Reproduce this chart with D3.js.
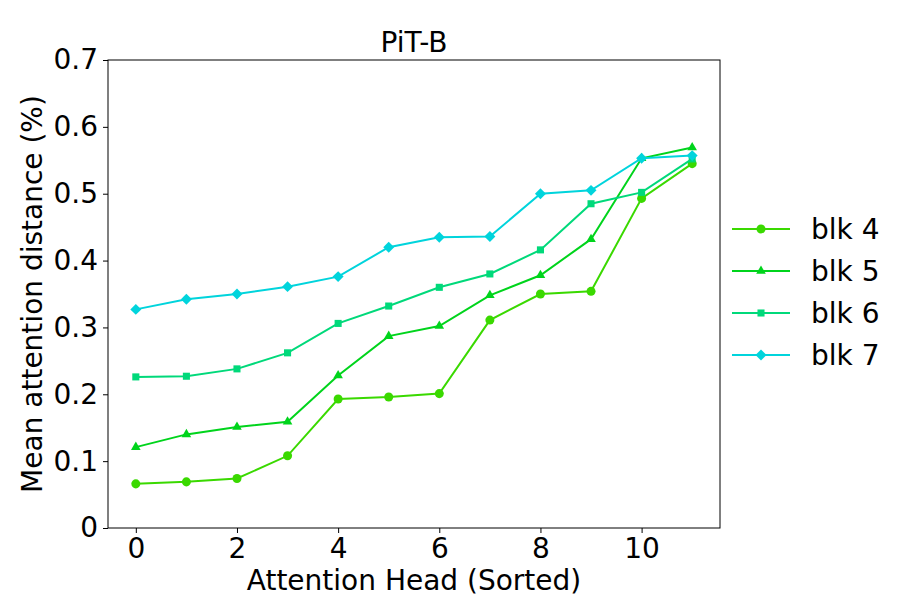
<!DOCTYPE html>
<html><head><meta charset="utf-8">
<script src="https://cdn.jsdelivr.net/npm/d3@7"></script>
<style>body{margin:0;background:#fff}svg text{font-family:"DejaVu Sans",sans-serif;fill:#000}</style>
</head><body>
<svg id="c" width="900" height="600"></svg>
<script>
const heads = [0,1,2,3,4,5,6,7,8,9,10,11];
const xTicks = [0,2,4,6,8,10];
const yTicks = [0,0.1,0.2,0.3,0.4,0.5,0.6,0.7];
const seriesNames = ["blk 4","blk 5","blk 6","blk 7"];
const blk4 = [0.066,0.069,0.074,0.108,0.193,0.196,0.201,0.311,0.350,0.354,0.493,0.545];
const blk5 = [0.121,0.140,0.151,0.159,0.228,0.287,0.302,0.348,0.378,0.432,0.553,0.569];
const blk6 = [0.226,0.227,0.238,0.262,0.306,0.332,0.360,0.380,0.416,0.485,0.502,0.552];
const blk7 = [0.327,0.342,0.350,0.361,0.376,0.420,0.435,0.436,0.500,0.505,0.553,0.557];
const colors = ["#3ad900","#00d41c","#00d97a","#00d4dc"];
const shapes = [d3.symbolCircle, d3.symbolTriangle, d3.symbolSquare, d3.symbolSquare];
const sizes = [64, 40, 50, 60];
const rot = [0, 0, 0, 45];
const allSeries = [blk4, blk5, blk6, blk7];
const FS = "28px";

const svg = d3.select("#c");
const L=108, R=720, T=60, B=528;
const x = d3.scaleLinear().domain([-0.55, 11.55]).range([L, R]);
const y = d3.scaleLinear().domain([0, 0.7]).range([B, T]);

const xa = svg.append("g").attr("transform",`translate(0,${B})`)
  .call(d3.axisBottom(x).tickValues(xTicks).tickSize(5).tickPadding(5.5).tickFormat(d3.format("d")));
const ya = svg.append("g").attr("transform",`translate(${L},0)`)
  .call(d3.axisLeft(y).tickValues(yTicks).tickSize(5).tickPadding(5).tickFormat(d => d===0 ? "0" : d3.format(".1f")(d)));
[xa, ya].forEach(a => {
  a.select(".domain").remove();
  a.selectAll("text").style("font-size",FS).style("font-family","DejaVu Sans");
  a.selectAll("line").attr("stroke","#000").attr("stroke-width",1);
});

const line = d3.line().x((d,i)=>x(heads[i])).y(d=>y(d));
allSeries.forEach((s, k) => {
  svg.append("path").datum(s).attr("d", line).attr("fill","none")
    .attr("stroke", colors[k]).attr("stroke-width", 2);
  svg.selectAll(null).data(s).enter().append("path")
    .attr("d", d3.symbol().type(shapes[k]).size(sizes[k]))
    .attr("transform", (d,i)=>`translate(${x(heads[i])},${y(d)}) rotate(${rot[k]})`)
    .attr("fill", colors[k]);
});

svg.append("rect").attr("x",L).attr("y",T).attr("width",R-L).attr("height",B-T)
  .attr("fill","none").attr("stroke","#000").attr("stroke-width",1);

svg.append("text").attr("x",(L+R)/2).attr("y",52).attr("text-anchor","middle")
  .style("font-size",FS).text("PiT-B");
svg.append("text").attr("x",(L+R)/2).attr("y",590).attr("text-anchor","middle")
  .style("font-size",FS).text("Attention Head (Sorted)");
svg.append("text").attr("transform",`translate(42,${(T+B)/2}) rotate(-90)`).attr("text-anchor","middle")
  .style("font-size",FS).text("Mean attention distance (%)");

const leg = svg.append("g");
seriesNames.forEach((n,k) => {
  const ly = 229 + k*42;
  leg.append("line").attr("x1",732).attr("x2",790).attr("y1",ly).attr("y2",ly)
    .attr("stroke",colors[k]).attr("stroke-width",2);
  leg.append("path").attr("d", d3.symbol().type(shapes[k]).size(sizes[k]))
    .attr("transform",`translate(761,${ly}) rotate(${rot[k]})`).attr("fill",colors[k]);
  leg.append("text").attr("x",811).attr("y",ly).attr("dy","0.36em")
    .style("font-size",FS).text(n);
});
</script>
</body></html>
